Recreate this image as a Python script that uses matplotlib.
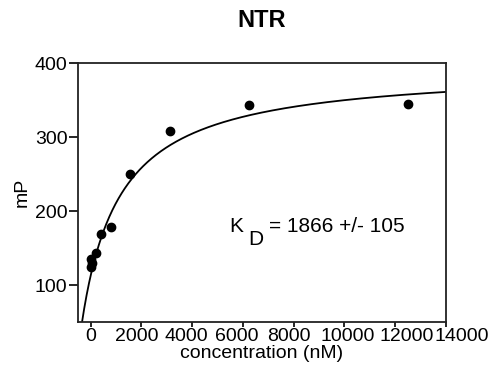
import numpy as np
import matplotlib.pyplot as plt
from matplotlib.transforms import ScaledTranslation

plt.rcParams['font.family'] = ['Liberation Sans', 'DejaVu Sans']

# titration data (nM vs mP)
conc = [0, 24, 49, 195, 390, 781, 1562, 3125, 6250, 12500]
mP = [135, 125, 130, 144, 169, 178, 250, 308, 343, 344]

# one-site binding fit
B0 = 113
Bmax = 281
Kd = 1866
Kd_err = 105

xticks = [0, 2000, 4000, 6000, 8000, 10000, 12000, 14000]
# horizontal nudge (px) of each x tick label so the crowded labels don't collide
xlabel_shift = [0, -5, -6, -6, -5, 3, 11, 16]

fig = plt.figure(figsize=(5, 3.75), dpi=100)
ax = fig.add_axes([0.156, 0.141, 0.736, 0.691])

xf = np.linspace(-500, 14000, 600)
yf = B0 + Bmax * xf / (Kd + xf)
ax.plot(xf, yf, color='black', lw=1.3)
ax.plot(conc, mP, 'o', color='black', ms=6)

ax.set_xlim(-500, 14000)
ax.set_ylim(50, 400)
ax.set_xticks(xticks)
ax.set_yticks([100, 200, 300, 400])
ax.tick_params(labelsize=14, width=1.2, direction='out', pad=1)
ax.tick_params(axis='x', length=3.5)
ax.tick_params(axis='y', length=6.5)
for s in ax.spines.values():
    s.set_linewidth(1.3)
    s.set_color('#222222')

for lab, dx in zip(ax.get_xticklabels(), xlabel_shift):
    lab.set_transform(lab.get_transform() + ScaledTranslation(dx / 100, 0, fig.dpi_scale_trans))

ax.set_xlabel('concentration (nM)', fontsize=14, labelpad=0)
ax.set_ylabel('mP', fontsize=14, labelpad=3)
ax.set_title('NTR', fontsize=17, fontweight='bold', pad=26)

ax.text(0.41, 0.37, 'K', fontsize=15, transform=ax.transAxes, ha='left', va='center')
ax.text(0.462, 0.32, 'D', fontsize=15, transform=ax.transAxes, ha='left', va='center')
ax.text(0.52, 0.37, '= %d +/- %d' % (Kd, Kd_err), fontsize=15,
        transform=ax.transAxes, ha='left', va='center')

fig.savefig('out.png', dpi=100)
